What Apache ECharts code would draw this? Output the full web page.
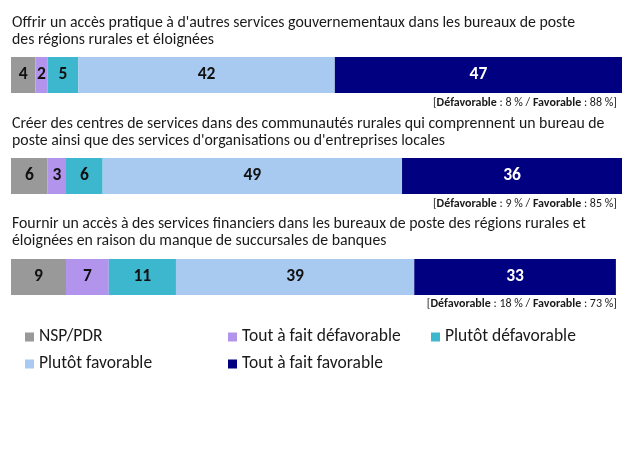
<!DOCTYPE html>
<html>
<head>
<meta charset="utf-8">
<script src="https://cdn.jsdelivr.net/npm/echarts@6/dist/echarts.min.js"></script>
<style>html,body{margin:0;padding:0;background:#fff;}#c{width:624px;height:468px;}</style>
</head>
<body>
<div id="c"></div>
<script>
var questions = [
  "Offrir un accès pratique à d'autres services gouvernementaux dans les bureaux de poste\ndes régions rurales et éloignées",
  "Créer des centres de services dans des communautés rurales qui comprennent un bureau de\nposte ainsi que des services d'organisations ou d'entreprises locales",
  "Fournir un accès à des services financiers dans les bureaux de poste des régions rurales et\néloignées en raison du manque de succursales de banques"
];
var seriesNames = ["NSP/PDR", "Tout à fait défavorable", "Plutôt défavorable", "Plutôt favorable", "Tout à fait favorable"];
var nsp = [4, 6, 9];
var toutDef = [2, 3, 7];
var plutotDef = [5, 6, 11];
var plutotFav = [42, 49, 39];
var toutFav = [47, 36, 33];
var defavorable = [8, 9, 18];
var favorable = [88, 85, 73];

var values = [nsp, toutDef, plutotDef, plutotFav, toutFav];
var colors = ["#999999", "#b394ec", "#3db7cd", "#a9caf0", "#000080"];
var labelColors = ["#111", "#111", "#111", "#111", "#fff"];
var FONT = "Carlito";

var chart = echarts.init(document.getElementById('c'), null, {renderer: 'canvas'});

var series = values.map(function (arr, i) {
  return {
    name: seriesNames[i],
    type: 'bar',
    stack: 'total',
    barWidth: 36,
    data: arr,
    itemStyle: {color: colors[i]},
    label: {
      show: true,
      position: 'inside',
      color: labelColors[i],
      fontFamily: FONT,
      fontWeight: 'bold',
      fontSize: 17.5
    },
    emphasis: {disabled: true}
  };
});

var titleTops = [15, 116, 216];
var noteMid = [103, 204, 304];
var graphics = [];
questions.forEach(function (q, i) {
  graphics.push({
    type: 'text',
    left: 12,
    top: titleTops[i],
    style: {
      text: q,
      font: '15.8px ' + FONT,
      fill: '#1a1a1a',
      lineHeight: 17
    }
  });
  graphics.push({
    type: 'text',
    x: 617,
    y: noteMid[i],
    style: {
      text: '[{b|Défavorable} : ' + defavorable[i] + ' % / {b|Favorable} : ' + favorable[i] + ' %]',
      font: '12px ' + FONT,
      fill: '#1a1a1a',
      align: 'right',
      verticalAlign: 'middle',
      textAlign: 'right',
      textVerticalAlign: 'middle',
      rich: {
        b: {fontWeight: 'bold', fontSize: 12, fontFamily: FONT, fill: '#1a1a1a', color: '#1a1a1a'}
      }
    }
  });
});

var legendPos = [
  {left: 25, top: 328},
  {left: 228, top: 328},
  {left: 431, top: 328},
  {left: 25, top: 355},
  {left: 228, top: 355}
];
var legends = seriesNames.map(function (n, i) {
  return {
    data: [n],
    left: legendPos[i].left,
    top: legendPos[i].top,
    padding: 0,
    icon: 'rect',
    itemWidth: 9,
    itemHeight: 9,
    itemGap: 5,
    selectedMode: false,
    textStyle: {fontFamily: FONT, fontSize: 17.5, color: '#1a1a1a', padding: [0, 0, 0, 0]}
  };
});

chart.setOption({
  animation: false,
  textStyle: {fontFamily: FONT},
  grid: {left: 11, right: 2, top: 24.5, height: 303, containLabel: false},
  xAxis: {type: 'value', min: 0, max: 100, show: false},
  yAxis: {type: 'category', data: questions, inverse: true, show: false},
  legend: legends,
  series: series,
  graphic: graphics
});
</script>
</body>
</html>
